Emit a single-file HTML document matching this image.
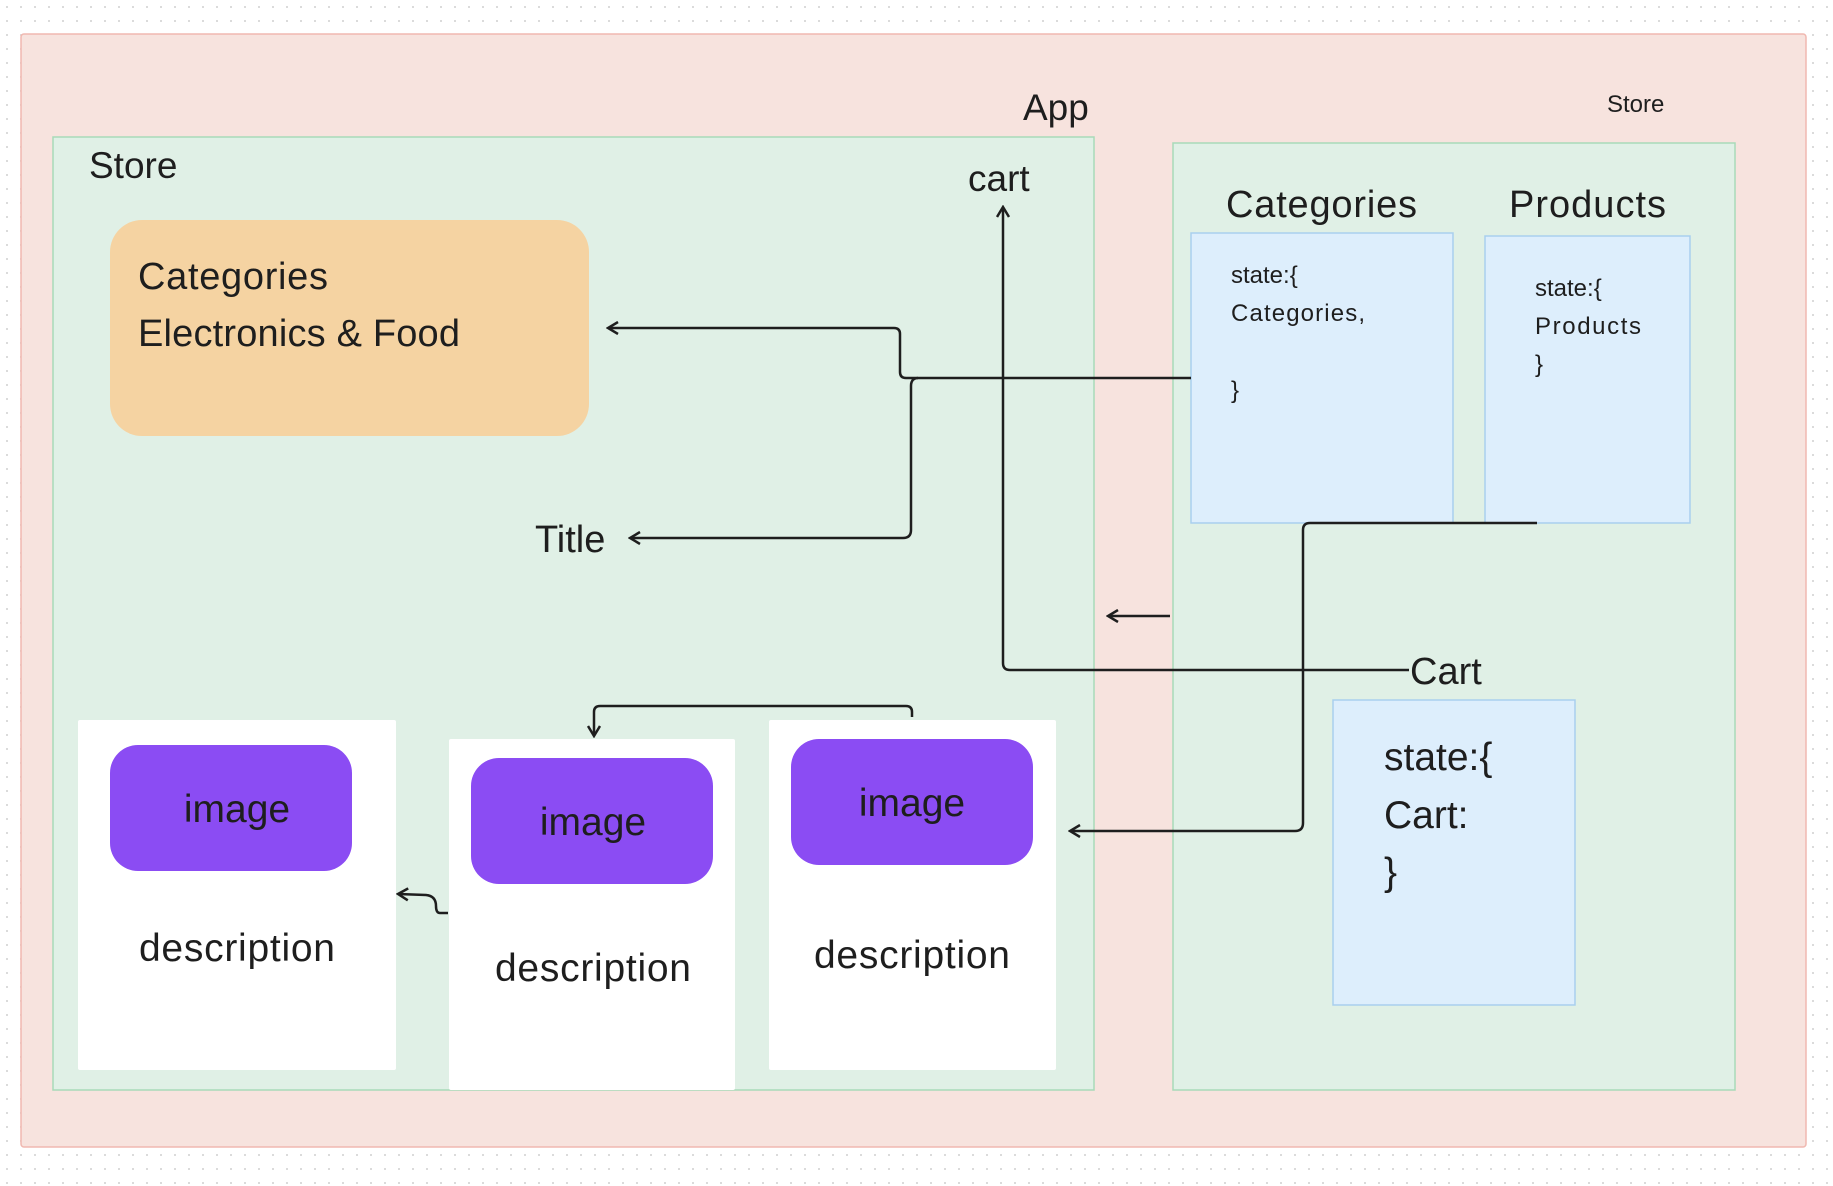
<!DOCTYPE html>
<html><head><meta charset="utf-8"><style>
body{margin:0;width:1833px;height:1186px;overflow:hidden;background:#fff;background-image:radial-gradient(#d8d8d8 1px,transparent 1.2px);background-size:14px 14px;}
svg{position:absolute;left:0;top:0}
text{font-family:"Liberation Sans",sans-serif;fill:#1e1e1e}
</style></head><body>
<svg width="1833" height="1186" viewBox="0 0 1833 1186">
<defs><marker id="a" markerWidth="14" markerHeight="14" refX="12" refY="7" orient="auto" markerUnits="userSpaceOnUse"><path d="M2,1 L12,7 L2,13" fill="none" stroke="#1e1e1e" stroke-width="2.5"/></marker></defs>
<rect x="21" y="34" width="1785" height="1113" fill="#f7e3de" stroke="#f0b8b0" stroke-width="1.5" rx="3"/>
<rect x="53" y="137" width="1041" height="953" fill="#e0f0e6" stroke="#a8dab8" stroke-width="1.5"/>
<rect x="1173" y="143" width="562" height="947" fill="#e0f0e6" stroke="#a8dab8" stroke-width="1.5"/>
<text x="1023" y="120" font-size="37">App</text>
<text x="1607" y="112" font-size="24">Store</text>
<text x="89" y="178" font-size="37">Store</text>
<text x="968" y="191" font-size="37">cart</text>
<rect x="110" y="220" width="479" height="216" rx="32" fill="#f5d3a2"/>
<text x="138" y="289" font-size="38" textLength="190">Categories</text>
<text x="138" y="346" font-size="38" textLength="322">Electronics &amp; Food</text>
<text x="1226" y="217" font-size="38" textLength="191">Categories</text>
<text x="1509" y="217" font-size="38" textLength="157">Products</text>
<rect x="1191" y="233" width="262" height="290" fill="#ddeefc" stroke="#a9cfee" stroke-width="1.5"/>
<rect x="1485" y="236" width="205" height="287" fill="#ddeefc" stroke="#a9cfee" stroke-width="1.5"/>
<text x="1231" y="283" font-size="24">state:{</text>
<text x="1231" y="321" font-size="24" textLength="134">Categories,</text>
<text x="1231" y="398" font-size="24">}</text>
<text x="1535" y="296" font-size="24">state:{</text>
<text x="1535" y="334" font-size="24" textLength="106">Products</text>
<text x="1535" y="372" font-size="24">}</text>
<text x="1410" y="684" font-size="38">Cart</text>
<rect x="1333" y="700" width="242" height="305" fill="#ddeefc" stroke="#a9cfee" stroke-width="1.5"/>
<text x="1384" y="770" font-size="39">state:{</text>
<text x="1384" y="828" font-size="39">Cart:</text>
<text x="1384" y="885" font-size="39">}</text>
<text x="535" y="552" font-size="38">Title</text>
<rect x="78" y="720" width="318" height="350" fill="#fff" rx="2"/>
<rect x="449" y="739" width="286" height="351" fill="#fff" rx="2"/>
<rect x="769" y="720" width="287" height="350" fill="#fff" rx="2"/>
<rect x="110" y="745" width="242" height="126" rx="28" fill="#8b4cf3"/>
<rect x="471" y="758" width="242" height="126" rx="28" fill="#8b4cf3"/>
<rect x="791" y="739" width="242" height="126" rx="28" fill="#8b4cf3"/>
<g font-size="39" text-anchor="middle">
<text x="237" y="822">image</text>
<text x="593" y="835">image</text>
<text x="912" y="816">image</text>
<text x="237" y="961" textLength="196">description</text>
<text x="593" y="981" textLength="196">description</text>
<text x="912" y="968" textLength="196">description</text>
</g>
<g fill="none" stroke="#1e1e1e" stroke-width="2.5">
<path d="M1191,378 H906 Q900,378 900,372 V334 Q900,328 894,328 H608" marker-end="url(#a)"/>
<path d="M918,378 Q911,378 911,386 V530 Q911,538 903,538 H630" marker-end="url(#a)"/>
<path d="M1409,670 H1010 Q1003,670 1003,663 V207" marker-end="url(#a)"/>
<path d="M1170,616 H1108" marker-end="url(#a)"/>
<path d="M1537,523 H1310 Q1303,523 1303,530 V823 Q1303,831 1295,831 H1070" marker-end="url(#a)"/>
<path d="M912,717 V712 Q912,706 906,706 H600 Q594,706 594,712 V736" marker-end="url(#a)"/>
<path d="M448,913 H440 Q436,913 436,906 Q436,896 426,895 L398,894" marker-end="url(#a)"/>
</g>
</svg>
</body></html>
